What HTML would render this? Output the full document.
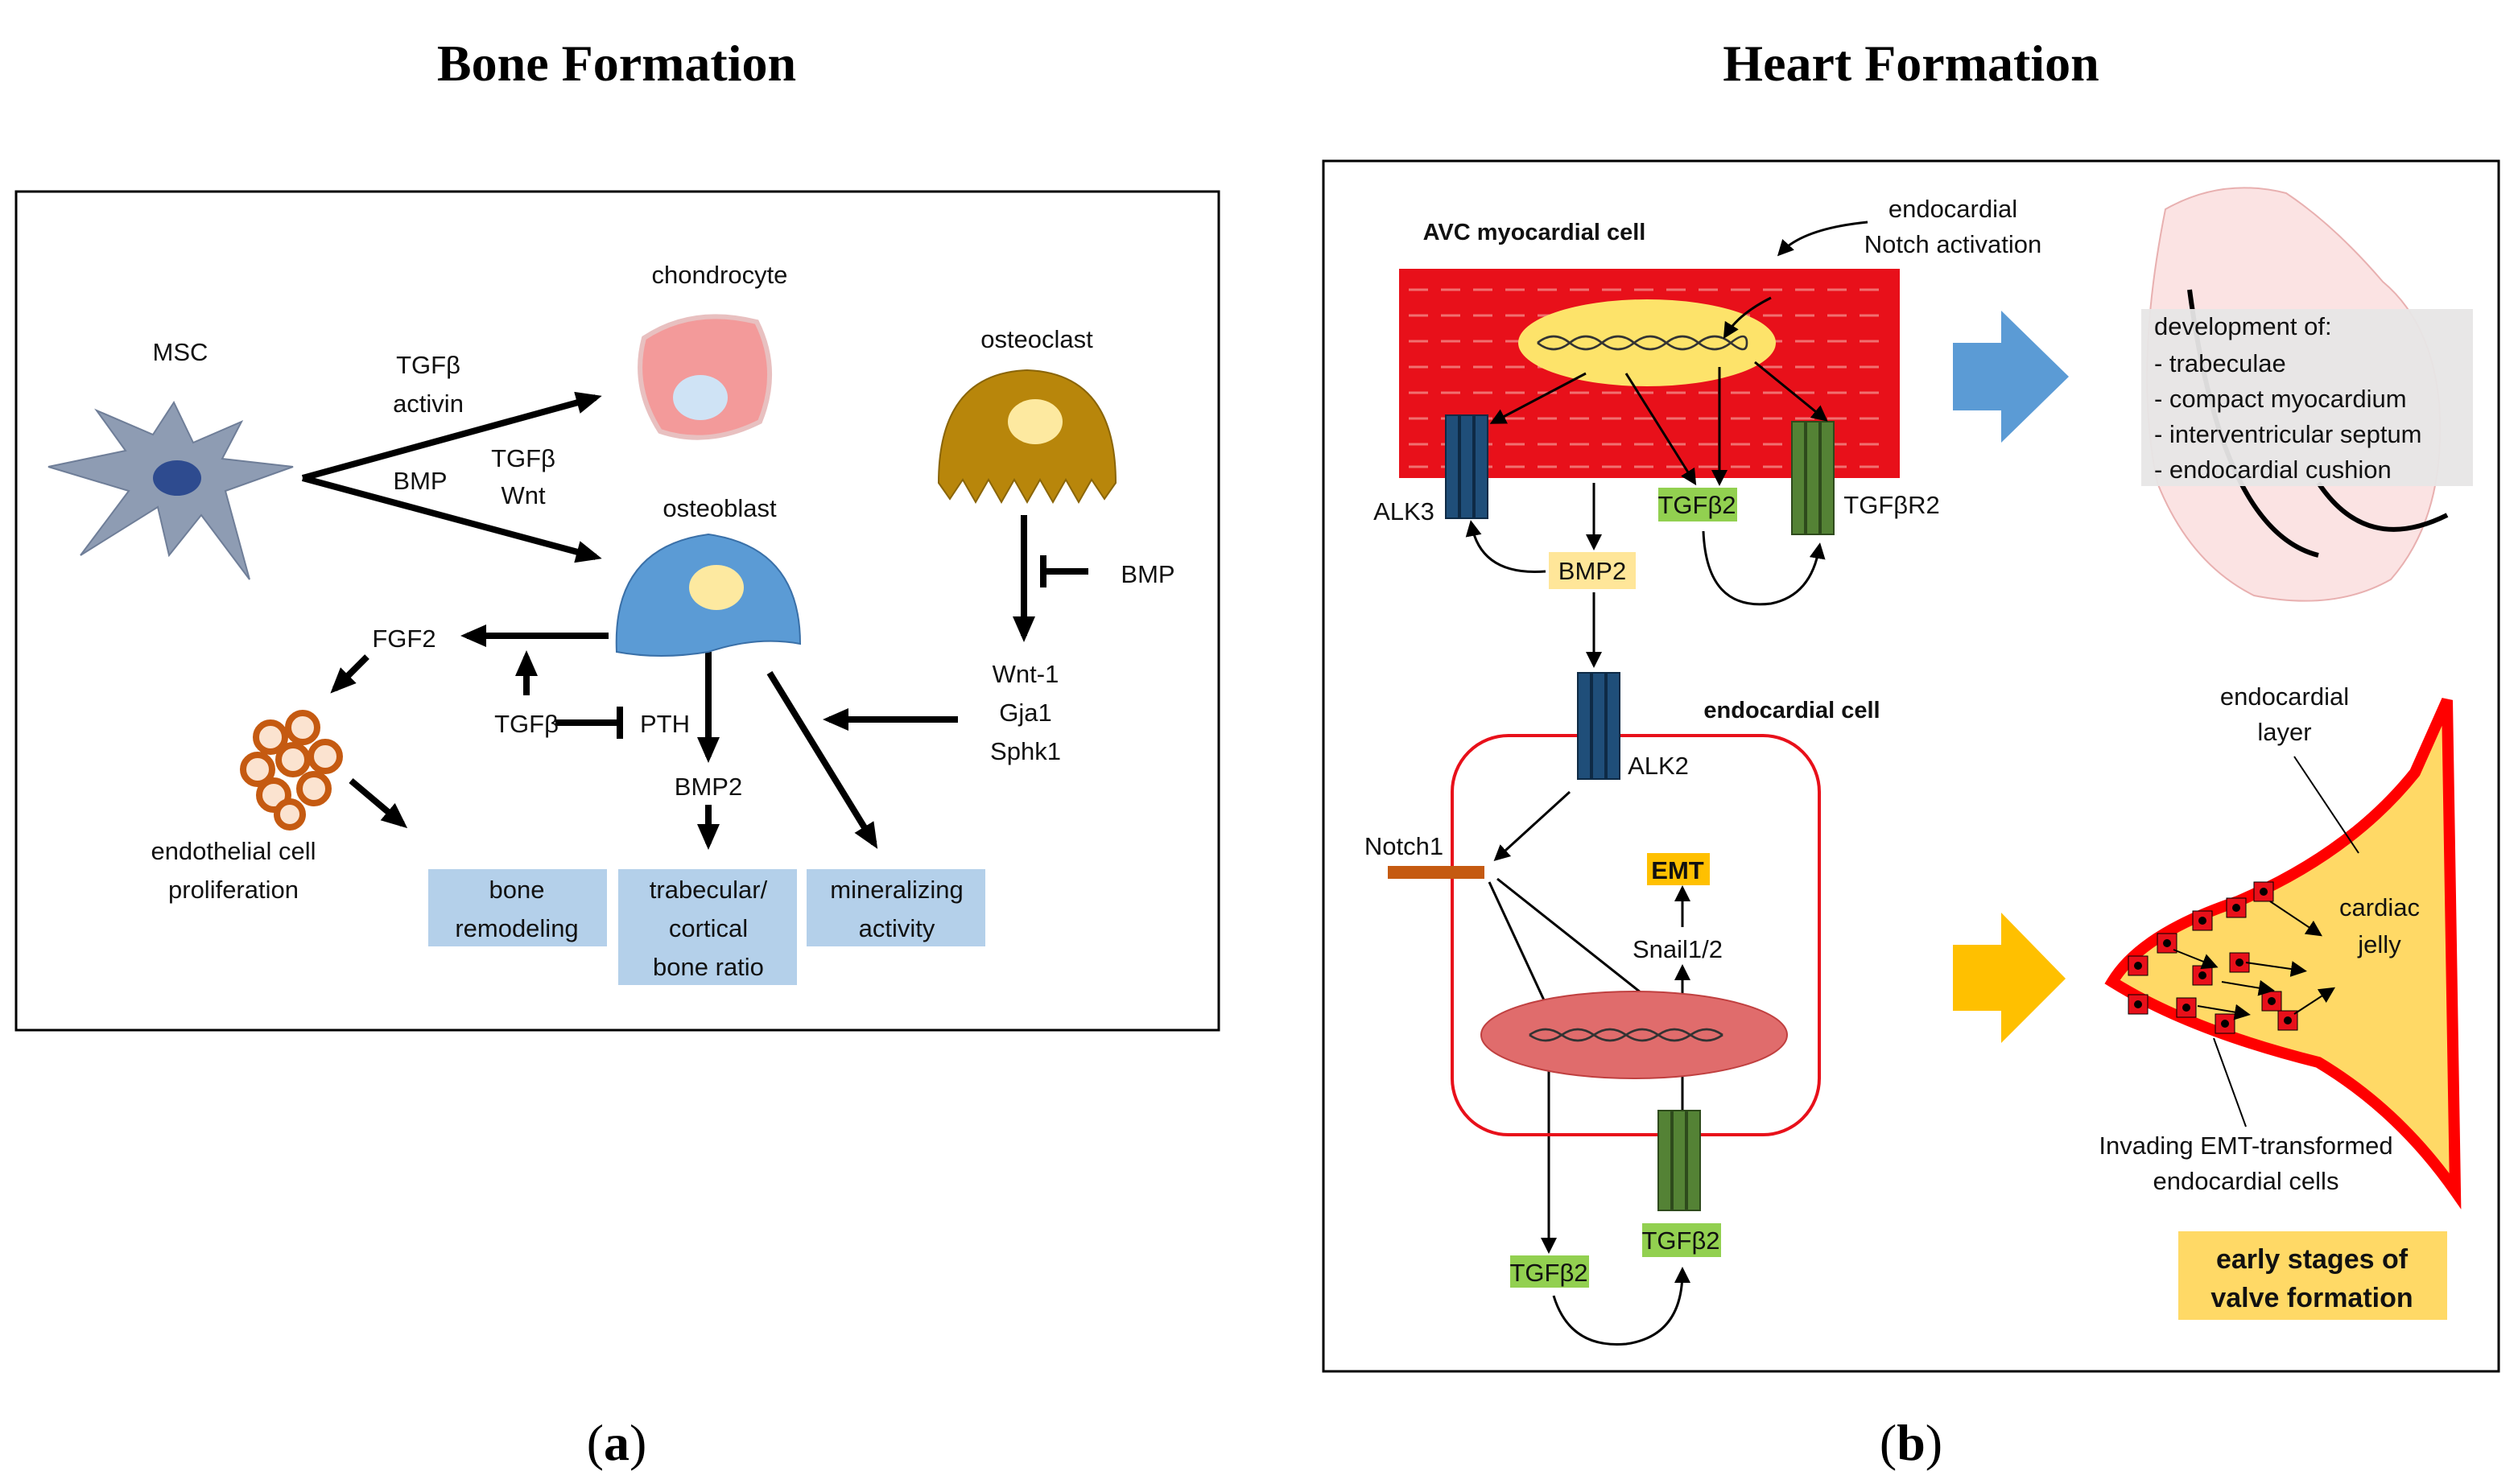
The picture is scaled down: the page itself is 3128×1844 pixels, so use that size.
<!DOCTYPE html>
<html><head><meta charset="utf-8"><style>html,body{margin:0;padding:0;background:#fff}svg{display:block}</style></head><body>
<svg width="3128" height="1844" viewBox="0 0 1564 922" xmlns="http://www.w3.org/2000/svg" font-family="Liberation Sans, sans-serif">
<defs>
<marker id="a" markerWidth="10" markerHeight="10" refX="7" refY="5" orient="auto" markerUnits="userSpaceOnUse"><path d="M0,0 L10,5 L0,10 z" fill="#000"/></marker>
<marker id="b" markerWidth="16" markerHeight="16" refX="12" refY="8" orient="auto" markerUnits="userSpaceOnUse"><path d="M0,1 L16,8 L0,15 z" fill="#000"/></marker>
</defs>
<g font-family="Liberation Serif, serif" font-weight="bold" font-size="32" text-anchor="middle">
<text x="383" y="50">Bone Formation</text><text x="1187" y="50">Heart Formation</text>
</g>
<g font-family="Liberation Serif, serif" font-size="32" text-anchor="middle">
<text x="383" y="907">(<tspan font-weight="bold">a</tspan>)</text><text x="1187" y="907">(<tspan font-weight="bold">b</tspan>)</text>
</g>
<rect x="10" y="119" width="747" height="521" fill="#fff" stroke="#000" stroke-width="1.5"/>
<rect x="822" y="100" width="730" height="752" fill="#fff" stroke="#000" stroke-width="1.5"/>
<g font-size="15.5" text-anchor="middle" fill="#111">
<text x="112" y="224">MSC</text>
<path d="M108,250 L120,275 L150,262 L138,285 L182,290 L140,305 L155,360 L125,320 L105,345 L98,315 L50,345 L80,305 L30,290 L78,280 L60,255 L95,270 Z" fill="#8e9cb3" stroke="#6f7e98"/>
<ellipse cx="110" cy="297" rx="15" ry="11" fill="#2e4b8f"/>
<g stroke="#000" stroke-width="4" fill="none">
<line x1="188" y1="297" x2="370" y2="247" marker-end="url(#b)"/>
<line x1="188" y1="297" x2="370" y2="346" marker-end="url(#b)"/>
<line x1="636" y1="320" x2="636" y2="395" marker-end="url(#b)"/>
<line x1="648" y1="355" x2="676" y2="355"/><line x1="648" y1="345" x2="648" y2="365"/>
<line x1="595" y1="447" x2="515" y2="447" marker-end="url(#b)"/>
<line x1="378" y1="395" x2="290" y2="395" marker-end="url(#b)"/>
<line x1="228" y1="408" x2="208" y2="428" marker-end="url(#b)"/>
<line x1="327" y1="432" x2="327" y2="408" marker-end="url(#b)"/>
<line x1="345" y1="449" x2="383" y2="449"/><line x1="385" y1="439" x2="385" y2="459"/>
<line x1="440" y1="405" x2="440" y2="470" marker-end="url(#b)"/>
<line x1="440" y1="500" x2="440" y2="524" marker-end="url(#b)"/>
<line x1="478" y1="418" x2="543" y2="524" marker-end="url(#b)"/>
<line x1="218" y1="485" x2="250" y2="512" marker-end="url(#b)"/>
</g>
<text x="266" y="232">TGFβ</text><text x="266" y="256">activin</text>
<text x="261" y="304">BMP</text><text x="325" y="290">TGFβ</text><text x="325" y="313">Wnt</text>
<text x="447" y="176">chondrocyte</text>
<path d="M400,210 Q430,190 470,200 Q485,230 472,262 Q440,278 410,268 Q392,240 400,210Z" fill="#f39a9a" stroke="#e8c0c0" stroke-width="3"/>
<ellipse cx="435" cy="247" rx="17" ry="14" fill="#cfe3f5"/>
<text x="644" y="216">osteoclast</text>
<path d="M583,300 Q583,232 638,230 Q693,232 693,300 L686,310 L678,298 L670,312 L662,298 L654,312 L646,298 L638,312 L630,298 L622,312 L614,298 L606,312 L598,298 L590,310 Z" fill="#b8860b" stroke="#8a6508"/>
<ellipse cx="643" cy="262" rx="17" ry="14" fill="#fde9a0"/>
<text x="447" y="321">osteoblast</text>
<path d="M383,405 Q380,340 440,332 Q497,340 497,400 Q470,395 440,405 Q410,410 383,405Z" fill="#5b9bd5" stroke="#3a70a8"/>
<ellipse cx="445" cy="365" rx="17" ry="14" fill="#fde9a0"/>
<text x="713" y="362">BMP</text>
<text x="637" y="424">Wnt-1</text><text x="637" y="448">Gja1</text><text x="637" y="472">Sphk1</text>
<text x="251" y="402">FGF2</text>
<g fill="#fbe3d0" stroke="#c55a11" stroke-width="4">
<circle cx="168" cy="458" r="9"/><circle cx="188" cy="452" r="9"/><circle cx="160" cy="478" r="9"/><circle cx="182" cy="472" r="9"/><circle cx="202" cy="470" r="9"/><circle cx="170" cy="494" r="9"/><circle cx="195" cy="490" r="9"/><circle cx="180" cy="506" r="8"/>
</g>
<text x="145" y="534">endothelial cell</text><text x="145" y="558">proliferation</text>
<text x="327" y="455">TGFβ</text><text x="413" y="455">PTH</text><text x="440" y="494">BMP2</text>
<rect x="266" y="540" width="111" height="48" fill="#b4d0ea"/>
<rect x="384" y="540" width="111" height="72" fill="#b4d0ea"/>
<rect x="501" y="540" width="111" height="48" fill="#b4d0ea"/>
<text x="321" y="558">bone</text><text x="321" y="582">remodeling</text>
<text x="440" y="558">trabecular/</text><text x="440" y="582">cortical</text><text x="440" y="606">bone ratio</text>
<text x="557" y="558">mineralizing</text><text x="557" y="582">activity</text>
<text x="953" y="149" font-weight="bold" font-size="14.5">AVC myocardial cell</text>
<text x="1213" y="135">endocardial</text><text x="1213" y="157">Notch activation</text>
<rect x="869" y="167" width="311" height="130" fill="#e8101a"/>
<g stroke="#f07070" stroke-width="1.5">
<path d="M875,180 H1175 M875,196 H1175 M875,212 H1175 M875,228 H1175 M875,244 H1175 M875,260 H1175 M875,276 H1175 M875,290 H1175" stroke-dasharray="12 8"/>
</g>
<ellipse cx="1023" cy="213" rx="80" ry="27" fill="#fde36a"/>
<path d="M955,213 q10,-8 20,0 t20,0 t20,0 t20,0 t20,0 t20,0 t10,0" fill="none" stroke="#333" stroke-width="1.3"/>
<path d="M955,213 q10,8 20,0 t20,0 t20,0 t20,0 t20,0 t20,0 t10,0" fill="none" stroke="#333" stroke-width="1.3"/>
<g fill="#1f4e79" stroke="#0e2a45"><rect x="898" y="258" width="8" height="64"/><rect x="907" y="258" width="8" height="64"/><rect x="916" y="258" width="8" height="64"/></g>
<g fill="#548235" stroke="#2e4a1c"><rect x="1113" y="262" width="8" height="70"/><rect x="1122" y="262" width="8" height="70"/><rect x="1131" y="262" width="8" height="70"/></g>
<text x="872" y="323">ALK3</text><text x="1175" y="319">TGFβR2</text>
<rect x="1030" y="303" width="49" height="21" fill="#92d050"/><text x="1054" y="319">TGFβ2</text>
<rect x="962" y="343" width="54" height="23" fill="#ffe699"/><text x="989" y="360">BMP2</text>
<g stroke="#000" stroke-width="1.5" fill="none">
<path d="M1160,138 Q1120,142 1106,157" marker-end="url(#a)"/>
<path d="M1100,185 Q1080,195 1072,208" marker-end="url(#a)"/>
<line x1="985" y1="232" x2="928" y2="262" marker-end="url(#a)"/>
<line x1="1010" y1="232" x2="1052" y2="299" marker-end="url(#a)"/>
<line x1="1068" y1="228" x2="1068" y2="299" marker-end="url(#a)"/>
<line x1="1090" y1="225" x2="1133" y2="260" marker-end="url(#a)"/>
<line x1="990" y1="300" x2="990" y2="339" marker-end="url(#a)"/>
<path d="M960,355 Q920,358 914,326" marker-end="url(#a)"/>
<path d="M1058,330 Q1060,380 1100,375 Q1125,370 1130,340" marker-end="url(#a)"/>
<line x1="990" y1="368" x2="990" y2="412" marker-end="url(#a)"/>
<line x1="975" y1="492" x2="930" y2="533" marker-end="url(#a)"/>
<line x1="1045" y1="630" x2="1045" y2="602" marker-end="url(#a)"/>
<line x1="1045" y1="576" x2="1045" y2="553" marker-end="url(#a)"/>
<line x1="925" y1="548" x2="963" y2="630" marker-end="url(#a)"/>
<line x1="930" y1="546" x2="1036" y2="630" marker-end="url(#a)"/>
<line x1="1045" y1="690" x2="1045" y2="658" marker-end="url(#a)"/>
<line x1="962" y1="655" x2="962" y2="776" marker-end="url(#a)"/>
<path d="M965,805 Q975,838 1010,835 Q1045,830 1045,790" marker-end="url(#a)"/>
</g>
<rect x="902" y="457" width="228" height="248" rx="35" fill="none" stroke="#e8101a" stroke-width="2"/>
<g fill="#1f4e79" stroke="#0e2a45"><rect x="980" y="418" width="8" height="66"/><rect x="989" y="418" width="8" height="66"/><rect x="998" y="418" width="8" height="66"/></g>
<text x="1030" y="481">ALK2</text>
<text x="1113" y="446" font-weight="bold" font-size="14.5">endocardial cell</text>
<rect x="862" y="538" width="60" height="8" fill="#c55a11"/><text x="872" y="531">Notch1</text>
<rect x="1023" y="530" width="39" height="20" fill="#ffc000"/><text x="1042" y="546" font-weight="bold">EMT</text>
<text x="1042" y="595">Snail1/2</text>
<ellipse cx="1015" cy="643" rx="95" ry="27" fill="#e06c6c" stroke="#c04040"/>
<path d="M950,643 q10,-7 20,0 t20,0 t20,0 t20,0 t20,0 t20,0" fill="none" stroke="#333" stroke-width="1.3"/>
<path d="M950,643 q10,7 20,0 t20,0 t20,0 t20,0 t20,0 t20,0" fill="none" stroke="#333" stroke-width="1.3"/>
<g fill="#548235" stroke="#2e4a1c"><rect x="1030" y="690" width="8" height="62"/><rect x="1039" y="690" width="8" height="62"/><rect x="1048" y="690" width="8" height="62"/></g>
<rect x="938" y="780" width="49" height="20" fill="#92d050"/><text x="962" y="796">TGFβ2</text>
<rect x="1020" y="760" width="49" height="21" fill="#92d050"/><text x="1044" y="776">TGFβ2</text>
<path d="M1213,213 H1243 V193 L1285,234 L1243,275 V255 H1213 Z" fill="#5b9bd5"/>
<path d="M1213,587 H1243 V567 L1283,608 L1243,648 V628 H1213 Z" fill="#ffc000"/>
<path d="M1345,130 Q1380,110 1420,120 Q1450,140 1480,175 Q1510,200 1515,250 Q1520,320 1485,360 Q1450,380 1400,370 Q1360,350 1340,300 Q1325,230 1345,130Z" fill="#fbe3e3" stroke="#e8b0b0"/>
<path d="M1440,300 Q1470,345 1520,320" fill="none" stroke="#000" stroke-width="3"/>
<path d="M1360,180 Q1380,330 1440,345" fill="none" stroke="#000" stroke-width="3"/>
<rect x="1330" y="192" width="206" height="110" fill="#e7e6e6" opacity="0.95"/>
<g text-anchor="start"><text x="1338" y="208">development of:</text><text x="1338" y="231">- trabeculae</text><text x="1338" y="253">- compact myocardium</text><text x="1338" y="275">- interventricular septum</text><text x="1338" y="297">- endocardial cushion</text></g>
<path d="M1312,610 Q1330,580 1390,560 Q1460,530 1500,480 L1520,435 L1525,740 Q1490,690 1440,660 Q1360,640 1312,610Z" fill="#ffd966" stroke="#ff0000" stroke-width="7"/>
<g fill="#e8101a" stroke="#000" stroke-width="0.5">
<rect x="1322" y="594" width="12" height="12"/><rect x="1340" y="580" width="12" height="12"/><rect x="1362" y="566" width="12" height="12"/><rect x="1383" y="558" width="12" height="12"/><rect x="1400" y="548" width="12" height="12"/>
<rect x="1322" y="618" width="12" height="12"/><rect x="1352" y="620" width="12" height="12"/><rect x="1376" y="630" width="12" height="12"/><rect x="1405" y="616" width="12" height="12"/><rect x="1415" y="628" width="12" height="12"/><rect x="1362" y="600" width="12" height="12"/><rect x="1385" y="592" width="12" height="12"/>
</g>
<g fill="#000"><circle cx="1328" cy="600" r="2.5"/><circle cx="1346" cy="586" r="2.5"/><circle cx="1368" cy="572" r="2.5"/><circle cx="1389" cy="564" r="2.5"/><circle cx="1406" cy="554" r="2.5"/><circle cx="1328" cy="624" r="2.5"/><circle cx="1358" cy="626" r="2.5"/><circle cx="1382" cy="636" r="2.5"/><circle cx="1411" cy="622" r="2.5"/><circle cx="1421" cy="634" r="2.5"/><circle cx="1368" cy="606" r="2.5"/><circle cx="1391" cy="598" r="2.5"/></g>
<g stroke="#000" stroke-width="1" fill="none">
<line x1="1350" y1="590" x2="1375" y2="600" marker-end="url(#a)"/><line x1="1395" y1="598" x2="1430" y2="603" marker-end="url(#a)"/><line x1="1410" y1="560" x2="1440" y2="580" marker-end="url(#a)"/><line x1="1380" y1="610" x2="1410" y2="615" marker-end="url(#a)"/><line x1="1425" y1="630" x2="1448" y2="615" marker-end="url(#a)"/><line x1="1365" y1="625" x2="1395" y2="630" marker-end="url(#a)"/>
<line x1="1425" y1="470" x2="1465" y2="530"/><line x1="1395" y1="700" x2="1375" y2="645"/>
</g>
<text x="1419" y="438">endocardial</text><text x="1419" y="460">layer</text>
<text x="1478" y="569">cardiac</text><text x="1478" y="592">jelly</text>
<text x="1395" y="717">Invading EMT-transformed</text><text x="1395" y="739">endocardial cells</text>
<rect x="1353" y="765" width="167" height="55" fill="#ffd966"/>
<text x="1436" y="788" font-weight="bold" font-size="17">early stages of</text><text x="1436" y="812" font-weight="bold" font-size="17">valve formation</text>
</g>
</svg>
</body></html>
